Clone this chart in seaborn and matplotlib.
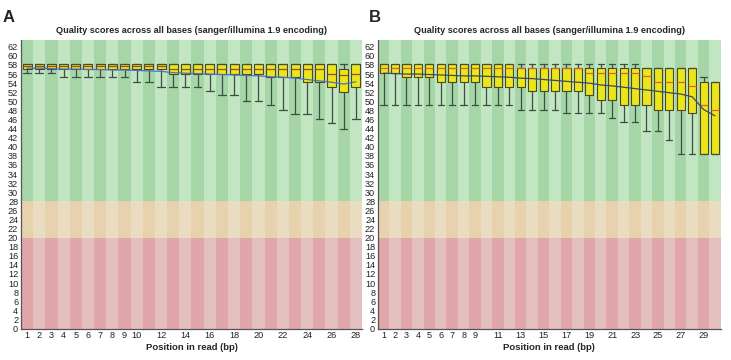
import matplotlib
matplotlib.use("Agg")
import matplotlib.pyplot as plt
import seaborn as sns
import pandas as pd

# ---- panel A : 28 positions ----
posA = [1, 2, 3, 4, 5, 6, 7, 8, 9, 10, 11, 12, 13, 14,
        15, 16, 17, 18, 19, 20, 21, 22, 23, 24, 25, 26, 27, 28]
q3A = [58.3, 58.3, 58.3, 58.3, 58.3, 58.3, 58.3, 58.3, 58.3, 58.3, 58.3, 58.3, 58.3, 58.3,
       58.3, 58.3, 58.3, 58.3, 58.3, 58.3, 58.3, 58.3, 58.3, 58.3, 58.3, 58.3, 57.2, 58.3]
medA = [57.8, 57.8, 57.8, 57.8, 57.8, 57.8, 57.8, 57.8, 57.8, 57.8, 57.8, 57.8, 57.2, 57.2,
        57.2, 57.2, 57.2, 57.2, 57.2, 57.2, 57.2, 57.2, 57.2, 57.2, 57.2, 56.1, 55.8, 56.1]
q1A = [57.2, 57.2, 57.2, 57.2, 57.2, 57.2, 57.2, 57.2, 57.2, 57.2, 57.2, 57.2, 56.1, 56.1,
       56.1, 56.1, 56.1, 56.1, 56.1, 56.1, 55.4, 55.4, 55.4, 54.3, 54.3, 53.2, 52.1, 53.2]
lowA = [56.2, 56.2, 56.2, 55.3, 55.3, 55.3, 55.3, 55.3, 55.3, 54.3, 54.3, 53.2, 53.2, 53.2,
        53.2, 52.2, 51.3, 51.3, 50.1, 50.1, 49.2, 48.2, 47.3, 47.3, 46.2, 45.2, 44.0, 46.2]
highA = [58.3, 58.3, 58.3, 58.3, 58.3, 58.3, 58.3, 58.3, 58.3, 58.3, 58.3, 58.3, 58.3, 58.3,
         58.3, 58.3, 58.3, 58.3, 58.3, 58.3, 58.3, 58.3, 58.3, 58.3, 58.3, 58.3, 58.3, 58.3]
meanA = [57.3, 57.3, 57.2, 57.1, 57.1, 57.0, 57.0, 56.9, 56.9, 56.8, 56.7, 56.6, 56.3, 56.2,
         56.1, 56.0, 55.9, 55.8, 55.7, 55.6, 55.4, 55.3, 55.1, 54.8, 54.5, 54.2, 53.8, 54.3]
xticksA = [1, 2, 3, 4, 5, 6, 7, 8, 9, 10, 12, 14, 16, 18, 20, 22, 24, 26, 28]

# ---- panel B : 30 positions ----
posB = [1, 2, 3, 4, 5, 6, 7, 8, 9, 10, 11, 12, 13, 14, 15,
        16, 17, 18, 19, 20, 21, 22, 23, 24, 25, 26, 27, 28, 29, 30]
q3B = [58.3, 58.3, 58.3, 58.3, 58.3, 58.3, 58.3, 58.3, 58.3, 58.3, 58.3, 58.3, 57.3, 57.3, 57.3,
       57.3, 57.3, 57.3, 57.3, 57.3, 57.3, 57.3, 57.3, 57.3, 57.3, 57.3, 57.3, 57.3, 54.3, 54.3]
medB = [57.3, 57.3, 57.3, 57.3, 57.3, 57.3, 57.3, 57.3, 57.3, 57.3, 57.3, 57.3, 57.3, 57.3, 57.3,
        57.3, 57.3, 57.3, 56.2, 56.2, 56.2, 56.2, 56.2, 55.5, 54.3, 54.3, 54.3, 53.4, 49.3, 48.2]
q1B = [56.2, 56.2, 55.4, 55.4, 55.4, 54.3, 54.3, 54.3, 54.3, 53.2, 53.2, 53.2, 53.2, 52.3, 52.3,
       52.2, 52.2, 52.2, 51.5, 50.4, 50.4, 49.3, 49.3, 49.3, 48.2, 48.2, 48.2, 47.4, 38.3, 38.3]
lowB = [49.3, 49.3, 49.3, 49.3, 49.3, 49.3, 49.3, 49.3, 49.3, 49.3, 49.3, 49.3, 48.2, 48.2, 48.2,
        48.2, 47.4, 47.4, 47.4, 47.4, 46.4, 45.4, 45.4, 43.5, 43.5, 41.4, 38.3, 38.3, 38.3, 38.3]
highB = [58.3, 58.3, 58.3, 58.3, 58.3, 58.3, 58.3, 58.3, 58.3, 58.3, 58.3, 58.3, 58.3, 58.3, 58.3,
         58.3, 58.3, 58.3, 58.3, 58.3, 58.3, 58.3, 58.3, 57.3, 57.3, 57.3, 57.3, 57.3, 55.4, 54.3]
meanB = [56.2, 56.1, 56.0, 56.0, 55.9, 55.8, 55.7, 55.6, 55.6, 55.5, 55.4, 55.3, 55.1, 55.0, 54.8,
         54.6, 54.4, 54.2, 54.0, 53.6, 53.4, 53.1, 52.8, 52.5, 52.2, 51.9, 51.6, 51.0, 48.2, 46.8]
xticksB = [1, 2, 3, 4, 5, 6, 7, 8, 9, 11, 13, 15, 17, 19, 21, 23, 25, 27, 29]

# quality zones (bottom, top) and stripe colours (dark, light)
zones = [(0, 20), (20, 28), (28, 63.5)]
zone_cols = [("#E0A6AA", "#E3BFC0"), ("#E6D2AC", "#E9DCC0"), ("#A6D6A8", "#C2E5C2")]

title = "Quality scores across all bases (sanger/illumina 1.9 encoding)"

sns.set_style("white")
plt.rcParams["font.family"] = ["Liberation Sans", "DejaVu Sans"]


def draw(ax, pos, q1, med, q3, lo, hi, mean, xt, boxw, capw, medc, meanc):
    n = len(pos)
    for (b, t), (dk, lt) in zip(zones, zone_cols):
        cols = [dk if p % 2 == 1 else lt for p in pos]
        ax.bar(pos, t - b, bottom=b, width=1.0, color=cols, linewidth=0, zorder=0)
    stats = []
    for i in range(n):
        stats.append(dict(med=med[i], q1=q1[i], q3=q3[i], whislo=lo[i], whishi=hi[i],
                          fliers=[], label=str(pos[i])))
    ax.bxp(stats, positions=pos, widths=boxw, capwidths=capw, patch_artist=True,
           showfliers=False, manage_ticks=False,
           boxprops=dict(facecolor="#EDE51B", edgecolor="#4a4a22", linewidth=0.8),
           medianprops=dict(color=medc, linewidth=0.9),
           whiskerprops=dict(color="#3e4e44", linewidth=0.9),
           capprops=dict(color="#3e4e44", linewidth=0.9))
    df = pd.DataFrame({"pos": pos, "mean": mean})
    sns.lineplot(data=df, x="pos", y="mean", ax=ax, color=meanc, linewidth=0.9, zorder=5)
    ax.set_xlim(0.5, n + 0.5)
    ax.set_ylim(0, 63.5)
    ax.set_yticks(range(0, 63, 2))
    ax.set_xticks(xt)
    ax.set_xticklabels([str(v) for v in xt])
    ax.tick_params(axis="both", length=0, labelsize=6.6, pad=2, colors="#222222")
    ax.set_xlabel("Position in read (bp)", fontsize=6.8, fontweight="bold", labelpad=2)
    ax.set_ylabel("")
    ax.set_title(title, fontsize=6.6, fontweight="bold", pad=5)
    for s in ["top", "right"]:
        ax.spines[s].set_visible(False)
    for s in ["left", "bottom"]:
        ax.spines[s].set_color("#555555")
        ax.spines[s].set_linewidth(0.9)


fig = plt.figure(figsize=(7.31, 3.6), dpi=100)
axA = fig.add_axes([0.0287, 0.0875, 0.4665, 0.8014])
axB = fig.add_axes([0.517, 0.0875, 0.469, 0.8014])

draw(axA, posA, q1A, medA, q3A, lowA, highA, meanA, xticksA, 0.74, 0.62, "#9C4A22", "#4C6FC4")
draw(axB, posB, q1B, medB, q3B, lowB, highB, meanB, xticksB, 0.72, 0.55, "#E0602A", "#3E4866")

fig.text(0.004, 0.972, "A", fontsize=12, fontweight="bold", va="top")
fig.text(0.504, 0.972, "B", fontsize=12, fontweight="bold", va="top")

fig.savefig("out.png", dpi=100)
